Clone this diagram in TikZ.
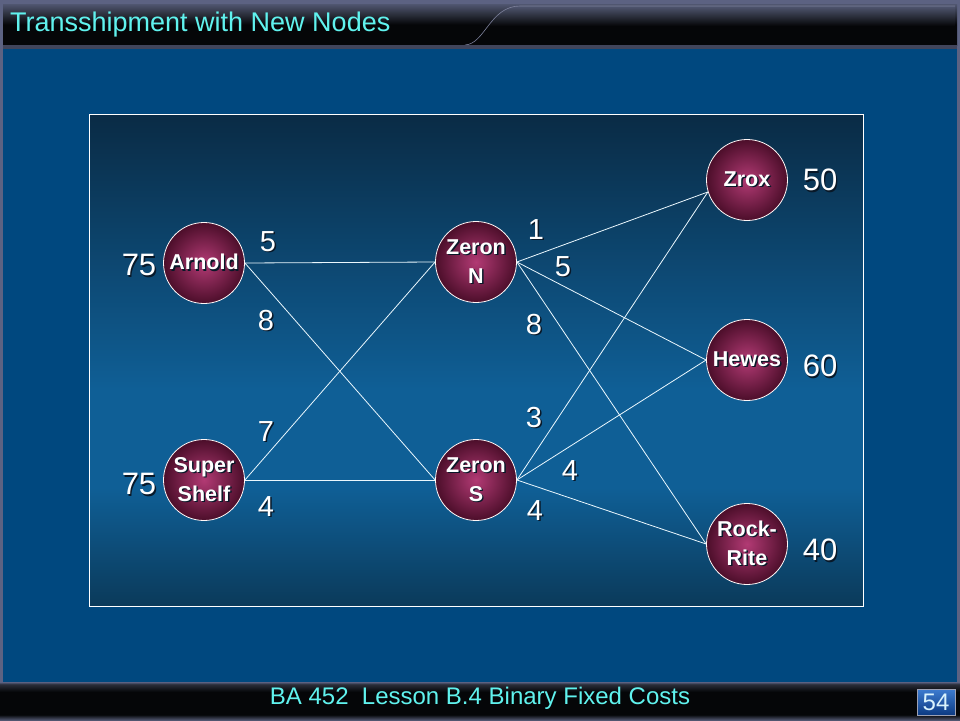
\documentclass[tikz,border=0pt]{standalone}
\usepackage{fontspec}
\setmainfont{Liberation Sans}
\usetikzlibrary{shadings}
\definecolor{framec}{HTML}{5C6282}
\definecolor{bluebg}{HTML}{00487F}
\definecolor{ptop}{HTML}{0A2B45}
\definecolor{pmid}{HTML}{0F5F96}
\definecolor{pbot}{HTML}{0B3A5A}
\definecolor{bk}{HTML}{050608}
\definecolor{bgreyA}{HTML}{2A2E3A}
\definecolor{bgreyB}{HTML}{505670}
\definecolor{cyantext}{HTML}{60F2EE}
\definecolor{ballin}{HTML}{B23A74}
\definecolor{ballout}{HTML}{4C0E2A}
\definecolor{shadowc}{HTML}{081828}
\definecolor{pgA}{HTML}{3D7CD0}
\definecolor{pgB}{HTML}{0C3A82}
\pgfdeclareverticalshading{panelshade}{100bp}{color(0bp)=(pbot); color(25bp)=(pbot); color(37bp)=(pmid); color(47bp)=(pmid); color(75bp)=(ptop); color(100bp)=(ptop)}
\pgfdeclareverticalshading{barshade}{100bp}{color(0bp)=(bk); color(25bp)=(bk); color(50bp)=(bk); color(62bp)=(bgreyA); color(75bp)=(bgreyB); color(100bp)=(bgreyB)}
\pgfdeclareverticalshading{botshade}{100bp}{color(0bp)=(bgreyB); color(25bp)=(bgreyB); color(32bp)=(bk); color(62bp)=(bk); color(72bp)=(bgreyA); color(75bp)=(framec); color(100bp)=(framec)}
\newcommand\shd[1]{\makebox[0pt][l]{\kern1.4pt\raisebox{-1.4pt}{\textcolor{shadowc}{#1}}}#1}
\begin{document}
\begin{tikzpicture}[x=1pt,y=-1pt,
  ball/.style={circle, minimum size=81pt, inner sep=0pt, draw=white!88!pink, line width=0.8pt,
    shading=radial, inner color=ballin, outer color=ballout, text=white,
    font=\fontsize{21.5}{29}\selectfont\bfseries, align=center},
  edge/.style={draw=white!92!cyan, line width=0.8pt},
  cost/.style={text=white, inner sep=0pt, font=\fontsize{29}{34}\selectfont},
  amount/.style={text=white, inner sep=0pt, font=\fontsize{31}{36}\selectfont}]
\useasboundingbox (0,0) rectangle (960,720);
% frame and backgrounds
\fill[framec] (0,0) rectangle (960,720);
\fill[bluebg] (3,49) rectangle (957,682);
% title bar
\shade[shading=barshade] (3,4) rectangle (957,45);
\shade[shading=barshade] (465,46) .. controls (485,44) and (490,6) .. (520,6) -- (955,6) -- (955,45) -- cycle;
\draw[framec!80!white, line width=0.6pt] (465,45) .. controls (485,44) and (490,6) .. (520,6) -- (955,6);
\fill[framec!70!black] (3,45) rectangle (957,49);
\node[anchor=west, text=cyantext, font=\fontsize{27}{31}\selectfont, inner sep=0pt] (title) at (10,25) {Transshipment with New Nodes};
% bottom bar
\shade[shading=botshade] (0,682) rectangle (960,720);
\node[text=cyantext, font=\fontsize{24}{28}\selectfont, inner sep=0pt] (footer) at (480,698) {BA 452\ \ Lesson B.4 Binary Fixed Costs};
\shade[top color=pgA, bottom color=pgB, draw=framec!60!white, line width=0.6pt] (917,689) rectangle (955,715);
\node[text=white!85!cyan, font=\fontsize{24}{28}\selectfont, inner sep=0pt] (pagenum) at (936,702) {54};
% panel
\shade[shading=panelshade] (89,114) rectangle (863,606);
\draw[white, line width=1pt] (89,114) rectangle (863,606);
% nodes
\node[ball] (arn) at (204,263) {\shd{Arnold}};
\node[ball] (sup) at (204,480) {\shd{Super}\\\shd{Shelf}};
\node[ball] (zn) at (476,262) {\shd{Zeron}\\\shd{N}};
\node[ball] (zs) at (476,480) {\shd{Zeron}\\\shd{S}};
\node[ball] (zrox) at (747,180) {\shd{Zrox}};
\node[ball] (hew) at (747,360) {\shd{Hewes}};
\node[ball] (rock) at (747,544) {\shd{Rock-}\\\shd{Rite}};
% edges
\draw[edge] (arn.east) -- (zn.west);
\draw[edge] (arn.east) -- (zs.west);
\draw[edge] (sup.east) -- (zn.west);
\draw[edge] (sup.east) -- (zs.west);
\draw[edge] (zn.east) -- (zrox.197);
\draw[edge] (zn.east) -- (hew.west);
\draw[edge] (zn.east) -- (rock.west);
\draw[edge] (zs.east) -- (zrox.197);
\draw[edge] (zs.east) -- (hew.west);
\draw[edge] (zs.east) -- (rock.west);
% cost labels
\node[cost] (c1) at (268,242) {\shd{5}};
\node[cost] (c2) at (266,321) {\shd{8}};
\node[cost] (c3) at (266,432) {\shd{7}};
\node[cost] (c4) at (266,507) {\shd{4}};
\node[cost] (c5) at (536,230) {\shd{1}};
\node[cost] (c6) at (563,267) {\shd{5}};
\node[cost] (c7) at (534,325) {\shd{8}};
\node[cost] (c8) at (534,418) {\shd{3}};
\node[cost] (c9) at (570,471) {\shd{4}};
\node[cost] (c10) at (535,511) {\shd{4}};
% supply / demand
\node[amount] (s1) at (139,266) {\shd{75}};
\node[amount] (s2) at (139,485) {\shd{75}};
\node[amount] (d1) at (820,181) {\shd{50}};
\node[amount] (d2) at (820,367) {\shd{60}};
\node[amount] (d3) at (820,551) {\shd{40}};
\end{tikzpicture}
\end{document}
